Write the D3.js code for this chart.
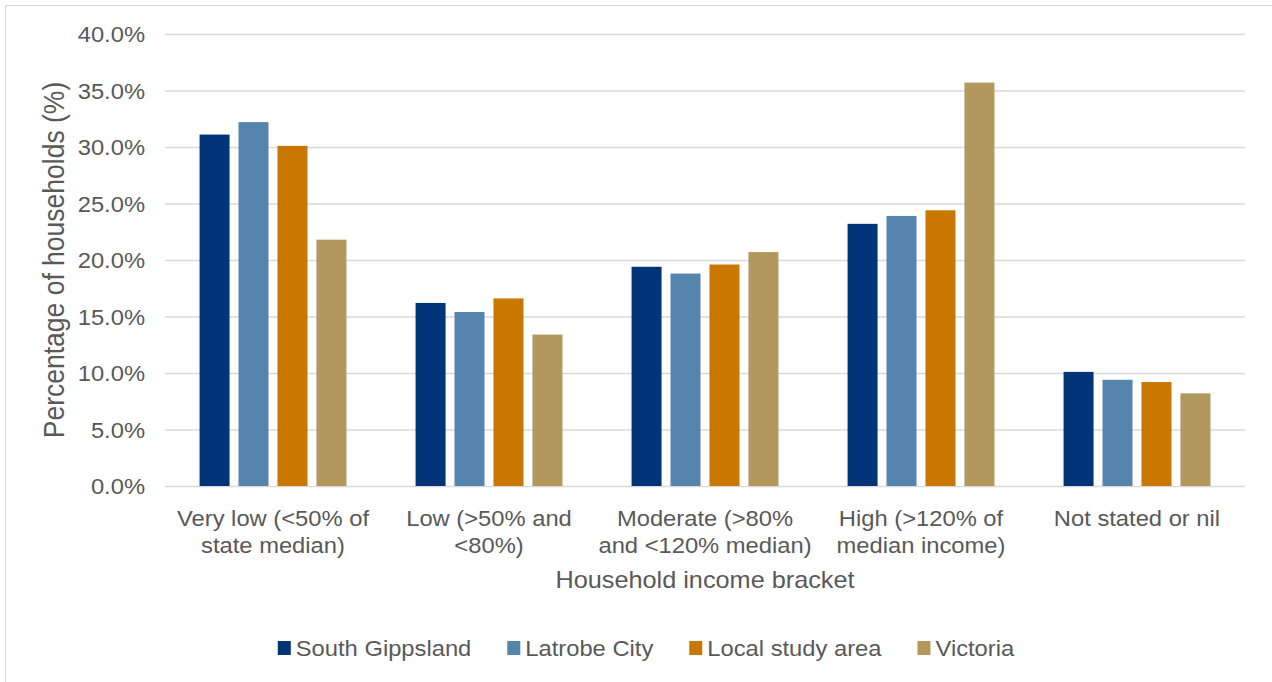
<!DOCTYPE html>
<html>
<head>
<meta charset="utf-8">
<script src="https://cdn.jsdelivr.net/npm/d3@7"></script>
<style>
  body { margin: 0; background: #fff; }
  svg { display: block; }
  text { font-family: "Liberation Sans", Arial, sans-serif; fill: #595959; }
</style>
</head>
<body>
<svg id="chart" width="1272" height="682"></svg>
<script>
// Income brackets (line breaks marked with \n)
const categories = [
  "Very low (<50% of\nstate median)",
  "Low (>50% and\n<80%)",
  "Moderate (>80%\nand <120% median)",
  "High (>120% of\nmedian income)",
  "Not stated or nil"
];
const seriesNames = ["South Gippsland", "Latrobe City", "Local study area", "Victoria"];
const southGippsland = [31.1, 16.2, 19.4, 23.2, 10.1];
const latrobeCity    = [32.2, 15.4, 18.8, 23.9, 9.4];
const localStudyArea = [30.1, 16.6, 19.6, 24.4, 9.2];
const victoria       = [21.8, 13.4, 20.7, 35.7, 8.2];
const yTicks = [0, 5, 10, 15, 20, 25, 30, 35, 40];
const colors = ["#003478", "#5584ad", "#c87700", "#b3985e"];

const seriesValues = [southGippsland, latrobeCity, localStudyArea, victoria];
const rows = categories.map((c, i) => ({
  cat: c,
  vals: seriesNames.map((s, j) => ({ series: s, idx: j, value: seriesValues[j][i] }))
}));

const SX = 1.08; // horizontal widening of the lettering
const svg = d3.select("#chart");
const plot = { left: 165, right: 1245, top: 34, bottom: 486 };

// outer frame
svg.append("rect")
  .attr("x", 5.5).attr("y", 5.5).attr("width", 1300).attr("height", 700)
  .attr("fill", "none").attr("stroke", "#d9d9d9").attr("stroke-width", 1);

const x0 = d3.scaleBand().domain(categories)
  .range([plot.left, plot.right]).paddingInner(0.32).paddingOuter(0.16);
const x1 = d3.scaleBand().domain(seriesNames)
  .range([0, x0.bandwidth()]).paddingInner(0.23);
const y = d3.scaleLinear().domain([0, 40]).range([plot.bottom, plot.top]);

// y axis with gridlines
const yAxis = svg.append("g")
  .attr("transform", `translate(${plot.left},0)`)
  .call(d3.axisLeft(y).tickValues(yTicks)
    .tickFormat(d => d.toFixed(1) + "%")
    .tickSize(-(plot.right - plot.left)).tickPadding(0));
yAxis.select(".domain").remove();
yAxis.selectAll(".tick line").attr("stroke", "#d9d9d9").attr("stroke-width", 1.5);
yAxis.selectAll(".tick text")
  .attr("x", -20 / SX).attr("dy", null).attr("y", 0)
  .attr("dominant-baseline", "central")
  .attr("transform", `scale(${SX},1)`)
  .style("font-size", "22px").style("font-family", null).attr("fill", "#595959");
yAxis.attr("font-family", null).attr("font-size", null);

// bars
const groups = svg.append("g").selectAll("g").data(rows).join("g")
  .attr("transform", d => `translate(${x0(d.cat)},0)`);
groups.selectAll("rect").data(d => d.vals).join("rect")
  .attr("x", d => x1(d.series))
  .attr("width", x1.bandwidth())
  .attr("y", d => y(d.value))
  .attr("height", d => y(0) - y(d.value))
  .attr("fill", d => colors[d.idx]);

// helper for widened text
function wideText(parent, x, y, str, size, anchor) {
  return parent.append("text")
    .attr("transform", `translate(${x},${y}) scale(${SX},1)`)
    .attr("text-anchor", anchor || "middle")
    .style("font-size", size + "px")
    .text(str);
}

// category labels
const labG = svg.append("g");
categories.forEach(c => {
  const cx = x0(c) + x0.bandwidth() / 2;
  c.split("\n").forEach((line, k) => {
    wideText(labG, cx, 525.5 + k * 27, line, 22);
  });
});

// axis titles
wideText(svg, 705, 587.5, "Household income bracket", 23.4);
svg.append("text")
  .attr("transform", `translate(${64},${plot.top + (plot.bottom - plot.top) / 2}) scale(${SX},1) rotate(-90)`)
  .attr("text-anchor", "middle")
  .style("font-size", "26.5px")
  .text("Percentage of households (%)");

// legend
const leg = svg.append("g");
const items = seriesNames.map((s, i) => {
  const g = leg.append("g");
  g.append("rect").attr("x", 0).attr("y", -7).attr("width", 13).attr("height", 14).attr("fill", colors[i]);
  const t = wideText(g, 18, 7.8, s, 22, "start");
  const w = 18 + t.node().getComputedTextLength() * SX;
  return { g, w };
});
const gap = 36;
const total = d3.sum(items, d => d.w) + gap * (items.length - 1);
let lx = 646 - total / 2;
items.forEach(it => {
  it.g.attr("transform", `translate(${lx},648)`);
  lx += it.w + gap;
});
</script>
</body>
</html>
